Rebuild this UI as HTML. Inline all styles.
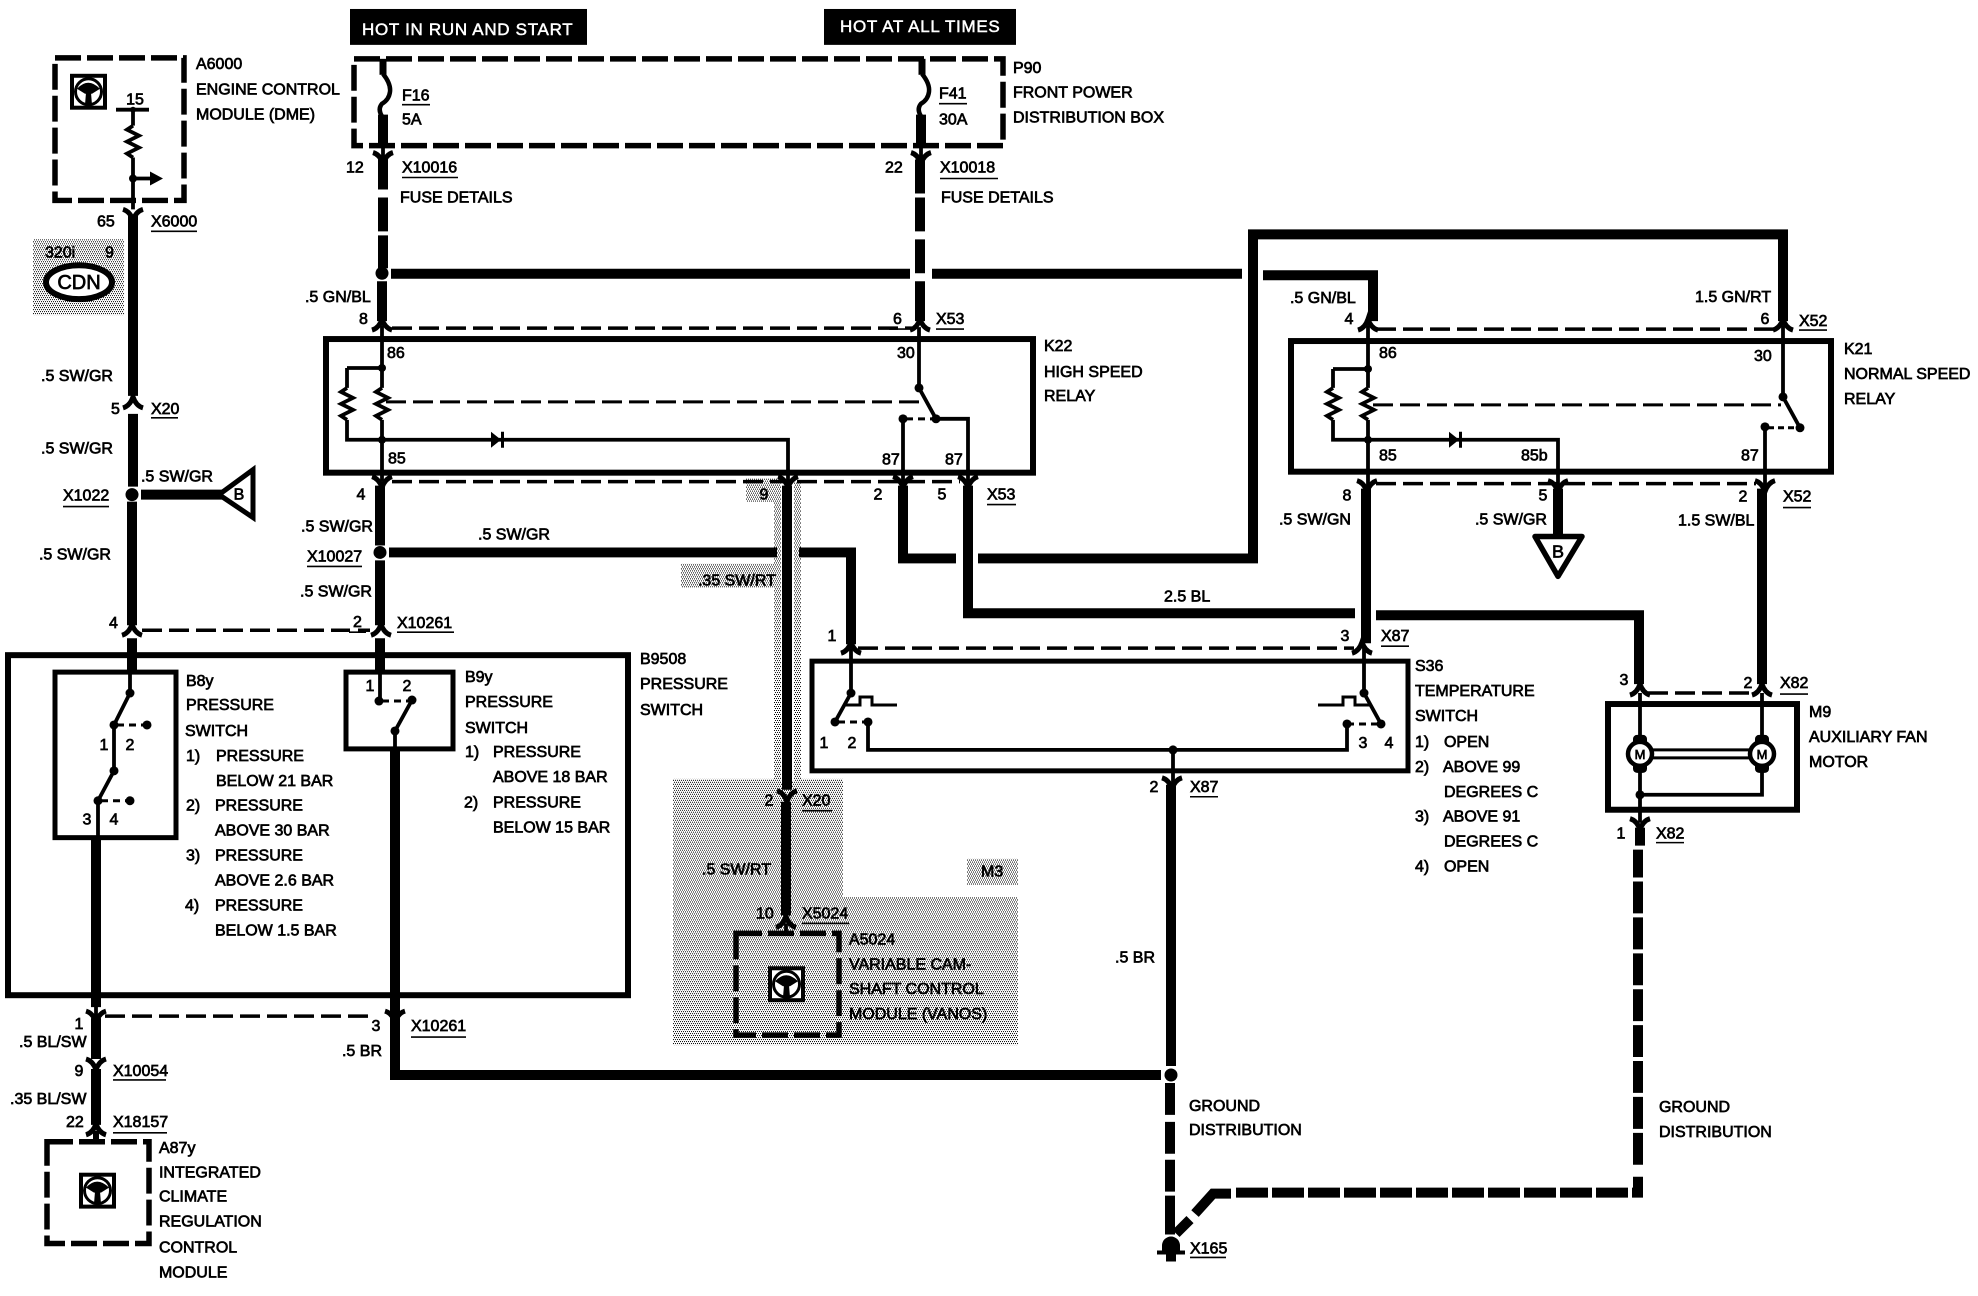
<!DOCTYPE html>
<html><head><meta charset="utf-8"><title>Auxiliary fan wiring diagram</title>
<style>
html,body{margin:0;padding:0;background:#fff}
svg{display:block}
text{font-family:"Liberation Sans",sans-serif;font-size:16px;fill:#000;stroke:#000;stroke-width:.7px}
.w{fill:#fff;stroke:#fff;stroke-width:.5px;font-size:17px;letter-spacing:.7px}
.m{text-anchor:middle}
.T{fill:none;stroke:#000;stroke-width:10}
.t{fill:none;stroke:#000;stroke-width:3.8}
.d{fill:none;stroke:#000;stroke-width:3.5;stroke-dasharray:20 7}
.x{fill:none;stroke:#000;stroke-width:5.5;stroke-dasharray:26 6}
.b{fill:none;stroke:#000;stroke-width:6}
.u{fill:none;stroke:#000;stroke-width:1.6}
.c{fill:none;stroke:#000;stroke-width:5}
</style></head><body>
<svg xmlns="http://www.w3.org/2000/svg" width="1978" height="1296" viewBox="0 0 1978 1296">
<defs>
<pattern id="g" width="4" height="4" patternUnits="userSpaceOnUse"><rect width="4" height="4" fill="#fff"/><rect x="0" y="0" width="1" height="1"/><rect x="2" y="0" width="1" height="1"/><rect x="1" y="2" width="1" height="1"/><rect x="3" y="2" width="1" height="1"/></pattern>
<g id="ic"><rect x="2" y="2" width="33" height="32" fill="#fff" stroke="#000" stroke-width="4"/><circle cx="18.500" cy="18" r="13" fill="none" stroke="#000" stroke-width="3"/><path d="M7 15Q18 3 30 15L22 20H15Z"/><path d="M16 19L15 31H22L21 19Z"/></g>
<path id="Y" d="M-10 -5Q-3 -3 0 6Q3 -3 10 -5" fill="none" stroke="#000" stroke-width="5"/>
<path id="A" d="M-10 5Q-3 3 0 -6Q3 3 10 5" fill="none" stroke="#000" stroke-width="5"/>
<path id="R" d="M0 0l-6 4l12 6l-12 6l12 6l-12 6l6 4" fill="none" stroke="#000" stroke-width="3.800"/>
<path id="F" d="M0 0q8 10 7 18q-1 8 -8 12q-5 6 1 14" fill="none" stroke="#000" stroke-width="4.500"/>
</defs>
<g transform="scale(1 .9972)">

<!-- grey patches -->
<g fill="url(#g)">
<rect x="33" y="240" width="91" height="76"/>
<rect x="746" y="480" width="36" height="23"/>
<rect x="774" y="483" width="27" height="300"/>
<rect x="681" y="565" width="97" height="24"/>
<path d="M673 781H843V899H1018V1048H673Z"/>
<rect x="967" y="861" width="51" height="27"/>
</g>
<rect x="781" y="483" width="13" height="300" fill="#fff"/>

<!-- header boxes -->
<rect x="350" y="9" width="237" height="36"/>
<text class="w" x="362" y="35">HOT IN RUN AND START</text>
<rect x="824" y="9" width="192" height="36"/>
<text class="w" x="840" y="32">HOT AT ALL TIMES</text>

<!-- dashed module boxes -->
<rect class="x" x="55" y="58" width="129" height="143"/>
<rect class="x" x="354" y="59" width="649" height="87"/>
<rect class="x" x="47" y="1145" width="102" height="102"/>
<rect class="x" x="736" y="936" width="103" height="102"/>
<use href="#ic" x="70" y="74"/>
<use href="#ic" x="79" y="1176"/>
<use href="#ic" x="768" y="969"/>

<!-- A6000 internals -->
<path class="t" d="M116 110H149M133 110V126M133 158V210M133 179H150"/>
<use href="#R" x="133" y="126"/>
<path d="M150 172L163 179L150 186Z"/>
<circle cx="133" cy="179" r="4"/><circle cx="133" cy="110" r="3"/>
<use href="#Y" x="133" y="215"/>
<path class="T" d="M133 215V397M133 415V488M132 503V627M132 640V674"/>
<use href="#A" x="133" y="404"/>
<circle cx="132" cy="496" r="6.500"/>
<path class="T" d="M141 496H222"/>
<path d="M219 496L253 471V519Z" fill="#fff" stroke="#000" stroke-width="5"/>
<use href="#A" x="132" y="632"/>
<path class="d" d="M142 632H350"/>

<!-- CDN -->
<text x="45" y="258">320i</text><text x="105" y="258">9</text>
<ellipse cx="79" cy="283" rx="33" ry="17" fill="#fff" stroke="#000" stroke-width="6"/>
<text class="m" x="79" y="290" style="font-size:20px">CDN</text>

<!-- F16 / F41 feeds -->
<path class="t" style="stroke-width:7" d="M383 59V75"/><use href="#F" x="383" y="74"/>
<path class="T" d="M383 115V147M383 160V190M383 198V232M383 236V269M382 282V322"/>
<path class="t" d="M383 147V158"/>
<use href="#Y" x="383" y="158"/>
<circle cx="382" cy="274" r="6.500"/>
<path class="t" style="stroke-width:7" d="M922 59V75"/><use href="#F" x="922" y="74"/>
<path class="T" d="M921 115V147M920 160V194M920 198V232M920 240V274M920 282V322"/>
<path class="t" d="M921 147V158"/>
<use href="#Y" x="921" y="158"/>
<path class="T" d="M391 274.500H910M932 274.500H1242M1263 276H1373V322"/>
<path class="d" d="M392 329H912M1376 330H1777"/>
<use href="#A" x="382" y="326"/><use href="#A" x="920" y="326"/><use href="#A" x="1368" y="326"/><use href="#A" x="1783" y="326"/>

<!-- K22 -->
<rect class="b" x="326" y="340" width="707" height="134"/>
<path class="t" d="M382 326V389M382 421V483M347 369H382M347 369V389M347 421V441H788V483M919 328V389L936 420M903 483V420M968 483V420H936"/>
<use href="#R" x="347" y="389"/><use href="#R" x="382" y="389"/>
<circle cx="382" cy="369" r="4"/><circle cx="382" cy="441" r="4"/>
<path d="M491 433V449L501 441ZM501 433H504V449H501Z"/>
<path class="d" style="stroke-width:3" d="M386 403H923"/>
<circle cx="919" cy="389" r="4.500"/><circle cx="936" cy="420" r="4.500"/><circle cx="903" cy="420" r="4.500"/>
<path class="d" style="stroke-dasharray:7 5;stroke-width:3" d="M906 420H936"/>
<path class="d" d="M392 483H960"/>
<path class="T" d="M380 487V547M380 562V627M380 640V674"/>
<use href="#Y" x="382" y="483"/><use href="#Y" x="788" y="483"/><use href="#Y" x="903" y="483"/><use href="#Y" x="968" y="483"/>
<circle cx="380" cy="554" r="6.500"/>
<use href="#A" x="381" y="632"/>
<path class="d" d="M358 632H370"/>

<!-- crossing heavy wires -->
<path class="T" d="M389 554H777M799 554H851V646"/>
<path class="T" d="M903 487V560H956M978 560H1253V235H1783V322"/>
<path class="T" d="M968 487V615H1355M1376 617H1639V686"/>
<path class="T" d="M787 487V792M786 804V918"/>
<use href="#Y" x="787" y="798"/><use href="#A" x="786" y="925"/>
<path class="t" d="M786 926V936"/>

<!-- K21 -->
<rect class="b" x="1291" y="342" width="540" height="131"/>
<path class="t" d="M1368 326V389M1368 421V487M1333 370H1368M1333 370V389M1333 421V441H1558V487M1783 326V398L1800 429M1765 428V487"/>
<use href="#R" x="1333" y="389"/><use href="#R" x="1368" y="389"/>
<circle cx="1368" cy="370" r="4"/><circle cx="1368" cy="441" r="4"/>
<path d="M1449 433V449L1459 441ZM1459 433H1462V449H1459Z"/>
<path class="d" style="stroke-width:3" d="M1373 406H1781"/>
<circle cx="1783" cy="398" r="4.500"/><circle cx="1800" cy="429" r="4.500"/><circle cx="1765" cy="428" r="4.500"/>
<path class="d" style="stroke-dasharray:6 4;stroke-width:3" d="M1768 429H1797"/>
<path class="d" d="M1376 485H1756"/>
<use href="#Y" x="1367" y="487"/><use href="#Y" x="1558" y="487"/><use href="#Y" x="1765" y="487"/>
<path class="T" d="M1366 490V645M1558 490V540M1762 490V686"/>
<path d="M1535 538H1582L1558 578Z" fill="#fff" stroke="#000" stroke-width="5.500" stroke-linejoin="round"/>

<!-- B9508 and pressure switches -->
<rect class="b" x="8" y="657" width="620" height="341"/>
<rect class="c" x="55" y="674" width="121" height="166"/>
<path class="t" d="M130 672V695L114 727V773L98 803V838"/>
<path class="d" style="stroke-dasharray:7 5;stroke-width:3" d="M117 727H147M101 803H130"/>
<circle cx="130" cy="695" r="4.500"/><circle cx="114" cy="727" r="4.500"/><circle cx="147" cy="727" r="4.500"/><circle cx="114" cy="773" r="4.500"/><circle cx="98" cy="803" r="4.500"/><circle cx="130" cy="803" r="4.500"/>
<path class="T" d="M96 841V1010"/>
<path class="t" d="M96 1008V1020"/>
<rect class="c" x="346" y="674" width="107" height="77"/>
<path class="t" d="M380 672V703M412 702L395 733V750"/>
<path class="d" style="stroke-dasharray:7 5;stroke-width:3" d="M382 703H412"/>
<circle cx="379" cy="703" r="4.500"/><circle cx="412" cy="702" r="4.500"/><circle cx="395" cy="733" r="4.500"/>
<path class="T" d="M395 751V1078H1161"/>
<path class="T" d="M96 1021V1062M96 1072V1128"/>
<path class="d" d="M105 1019H370"/>
<use href="#Y" x="96" y="1019"/><use href="#Y" x="395" y="1019"/>
<use href="#Y" x="96" y="1067"/><use href="#A" x="96" y="1133"/>
<path class="T" style="stroke-width:6" d="M96 1134V1145"/>

<!-- S36 -->
<rect class="c" x="812" y="663" width="596" height="110"/>
<path class="d" d="M858 650H1354"/>
<use href="#A" x="851" y="650"/><use href="#A" x="1362" y="650"/>
<path class="t" d="M851 650V695L835 724M868 726V752H1347V726M1173 752V785M1364 650V695L1381 726"/>
<path class="t" style="stroke-width:3" d="M845 707H860V699H872V707H897M1318 707H1343V699H1355V707H1372"/>
<path class="d" style="stroke-dasharray:7 5;stroke-width:3" d="M838 724H868M1347 726H1381"/>
<circle cx="851" cy="695" r="4.500"/><circle cx="835" cy="724" r="4.500"/><circle cx="868" cy="724" r="4.500"/><circle cx="1364" cy="695" r="4.500"/><circle cx="1381" cy="726" r="4.500"/><circle cx="1347" cy="726" r="4.500"/><circle cx="1173" cy="752" r="4.500"/>
<use href="#Y" x="1172" y="785"/>
<path class="T" d="M1171 787V1069M1170 1086V1118M1170 1125V1157M1170 1163V1195M1170 1199V1238"/>
<circle cx="1171" cy="1078" r="6.500"/>
<path class="T" d="M1176 1237L1190 1223M1195 1217L1213 1197H1231"/>
<path class="T" stroke-dasharray="32 4" d="M1236 1196H1638V1180"/>
<path class="T" stroke-dasharray="32 4" d="M1638 1168V852"/>
<path d="M1171 1240a9 9 0 0 1 9 9v5h5v4h-9v7h-10v-7h-9v-4h5v-5a9 9 0 0 1 9 -9Z"/>

<!-- M9 -->
<rect class="b" x="1608" y="706" width="189" height="106"/>
<use href="#A" x="1640" y="692"/><use href="#A" x="1762" y="692"/>
<path class="d" d="M1648 695H1750"/>
<path class="t" d="M1640 695V825M1762 695V797H1640"/>
<path class="t" style="stroke-width:3" d="M1653 752H1749M1653 760H1749"/>
<circle cx="1640" cy="797" r="4.500"/>
<rect x="1633" y="737" width="14" height="38" rx="4"/>
<rect x="1755" y="737" width="14" height="38" rx="4"/>
<circle cx="1640" cy="756" r="12" fill="#fff" stroke="#000" stroke-width="4.500"/>
<circle cx="1762" cy="756" r="12" fill="#fff" stroke="#000" stroke-width="4.500"/>
<text class="m" x="1640" y="761" style="font-size:13px">M</text>
<text class="m" x="1762" y="761" style="font-size:13px">M</text>
<use href="#Y" x="1640" y="826"/>
<path class="T" d="M1640 830V848"/>

<!-- underlines -->
<path class="u" d="M402 105H430M402 178H458M151 232H197M151 419H178M63 508H109M397 634H454M307 568H362M939 104H967M940 179H998M936 330H964M987 506H1016M349 634H366M889 330H905M1381 648H1409M1799 331H1827M1783 509H1811M1780 696H1808M1190 799H1218M1656 845H1684M802 813H832M802 926H849M1190 1261H1226M411 1040H466M113 1083H166M113 1136H167"/>

<!-- labels -->
<text x="196" y="69">A6000</text><text x="196" y="95">ENGINE CONTROL</text><text x="196" y="120">MODULE (DME)</text>
<text class="m" x="135" y="105">15</text>
<text x="402" y="101">F16</text><text x="402" y="125">5A</text>
<text x="346" y="173">12</text><text x="402" y="173">X10016</text><text x="400" y="203">FUSE DETAILS</text>
<text x="97" y="227">65</text><text x="151" y="227">X6000</text>
<text x="41" y="382">.5 SW/GR</text><text x="111" y="415">5</text><text x="151" y="415">X20</text>
<text x="41" y="455">.5 SW/GR</text><text x="141" y="483">.5 SW/GR</text><text x="63" y="502">X1022</text>
<text class="m" x="239" y="501">B</text>
<text x="39" y="561">.5 SW/GR</text><text x="109" y="630">4</text>
<text x="353" y="629">2</text><text x="397" y="630">X10261</text>
<text x="305" y="303">.5 GN/BL</text><text x="359" y="325">8</text>
<text x="387" y="359">86</text><text x="388" y="465">85</text>
<text x="361" y="501" class="m">4</text>
<text x="301" y="533">.5 SW/GR</text><text x="307" y="563">X10027</text><text x="300" y="598">.5 SW/GR</text>
<text x="478" y="541">.5 SW/GR</text>
<text x="1013" y="73">P90</text><text x="1013" y="98">FRONT POWER</text><text x="1013" y="123">DISTRIBUTION BOX</text>
<text x="939" y="99">F41</text><text x="939" y="125">30A</text>
<text x="885" y="173">22</text><text x="940" y="173">X10018</text><text x="941" y="203">FUSE DETAILS</text>
<text x="893" y="325">6</text><text x="936" y="325">X53</text>
<text x="897" y="359">30</text>
<text x="1044" y="352">K22</text><text x="1044" y="378">HIGH SPEED</text><text x="1044" y="402">RELAY</text>
<text x="882" y="466">87</text><text x="945" y="466">87</text>
<text class="m" x="764" y="501">9</text><text class="m" x="878" y="501">2</text><text class="m" x="942" y="501">5</text><text x="987" y="501">X53</text>
<text x="698" y="587">.35 SW/RT</text>
<text class="m" x="832" y="643">1</text>
<text x="1164" y="603">2.5 BL</text>
<text class="m" x="1345" y="643">3</text><text x="1381" y="643">X87</text>
<text class="m" x="824" y="750">1</text><text class="m" x="852" y="750">2</text>
<text class="m" x="1363" y="750">3</text><text class="m" x="1389" y="750">4</text>
<text x="1415" y="673">S36</text><text x="1415" y="698">TEMPERATURE</text><text x="1415" y="723">SWITCH</text>
<text x="1415" y="749">1)</text><text x="1444" y="749">OPEN</text>
<text x="1415" y="774">2)</text><text x="1443" y="774">ABOVE 99</text><text x="1444" y="799">DEGREES C</text>
<text x="1415" y="824">3)</text><text x="1443" y="824">ABOVE 91</text><text x="1444" y="849">DEGREES C</text>
<text x="1415" y="874">4)</text><text x="1444" y="874">OPEN</text>
<text class="m" x="1154" y="794">2</text><text x="1190" y="794">X87</text>
<text x="1115" y="965">.5 BR</text>
<text x="1189" y="1114">GROUND</text><text x="1189" y="1138">DISTRIBUTION</text>
<text x="1190" y="1257">X165</text>
<text x="1659" y="1115">GROUND</text><text x="1659" y="1140">DISTRIBUTION</text>
<text class="m" x="1621" y="841">1</text><text x="1656" y="841">X82</text>
<text class="m" x="1624" y="687">3</text><text class="m" x="1748" y="690">2</text><text x="1780" y="690">X82</text>
<text x="1809" y="719">M9</text><text x="1809" y="744">AUXILIARY FAN</text><text x="1809" y="769">MOTOR</text>
<text x="1290" y="304">.5 GN/BL</text><text class="m" x="1349" y="325">4</text>
<text x="1695" y="303">1.5 GN/RT</text><text class="m" x="1765" y="325">6</text><text x="1799" y="327">X52</text>
<text x="1379" y="359">86</text><text x="1379" y="462">85</text><text x="1521" y="462">85b</text>
<text x="1754" y="362">30</text><text x="1741" y="462">87</text>
<text x="1844" y="355">K21</text><text x="1844" y="380">NORMAL SPEED</text><text x="1844" y="405">RELAY</text>
<text class="m" x="1347" y="502">8</text><text x="1279" y="526">.5 SW/GN</text>
<text class="m" x="1543" y="502">5</text><text x="1475" y="526">.5 SW/GR</text>
<text class="m" x="1743" y="503">2</text><text x="1678" y="527">1.5 SW/BL</text><text x="1783" y="503">X52</text>
<text class="m" x="1558" y="559" style="font-size:18px">B</text>
<text class="m" x="104" y="752">1</text><text class="m" x="130" y="752">2</text><text class="m" x="87" y="827">3</text><text class="m" x="114" y="827">4</text>
<text x="186" y="688">B8y</text><text x="186" y="712">PRESSURE</text><text x="185" y="738">SWITCH</text>
<text x="186" y="763">1)</text><text x="216" y="763">PRESSURE</text><text x="216" y="788">BELOW 21 BAR</text>
<text x="186" y="813">2)</text><text x="215" y="813">PRESSURE</text><text x="215" y="838">ABOVE 30 BAR</text>
<text x="186" y="863">3)</text><text x="215" y="863">PRESSURE</text><text x="215" y="888">ABOVE 2.6 BAR</text>
<text x="185" y="913">4)</text><text x="215" y="913">PRESSURE</text><text x="215" y="938">BELOW 1.5 BAR</text>
<text class="m" x="370" y="693">1</text><text class="m" x="407" y="693">2</text>
<text x="465" y="684">B9y</text><text x="465" y="709">PRESSURE</text><text x="465" y="735">SWITCH</text>
<text x="465" y="759">1)</text><text x="493" y="759">PRESSURE</text><text x="493" y="784">ABOVE 18 BAR</text>
<text x="464" y="810">2)</text><text x="493" y="810">PRESSURE</text><text x="493" y="835">BELOW 15 BAR</text>
<text x="640" y="666">B9508</text><text x="640" y="691">PRESSURE</text><text x="640" y="717">SWITCH</text>
<text class="m" x="79" y="1032">1</text><text x="19" y="1050">.5 BL/SW</text>
<text class="m" x="376" y="1034">3</text><text x="411" y="1034">X10261</text><text x="342" y="1059">.5 BR</text>
<text class="m" x="79" y="1079">9</text><text x="113" y="1079">X10054</text>
<text x="10" y="1107">.35 BL/SW</text>
<text x="66" y="1130">22</text><text x="113" y="1130">X18157</text>
<text x="159" y="1156">A87y</text><text x="159" y="1181">INTEGRATED</text><text x="159" y="1205">CLIMATE</text><text x="159" y="1230">REGULATION</text><text x="159" y="1256">CONTROL</text><text x="159" y="1281">MODULE</text>
<text class="m" x="769" y="808">2</text><text x="802" y="808">X20</text>
<text x="702" y="877">.5 SW/RT</text><text x="981" y="879">M3</text>
<text x="756" y="921">10</text><text x="802" y="921">X5024</text>
<text x="849" y="947">A5024</text><text x="849" y="972">VARIABLE CAM-</text><text x="849" y="997">SHAFT CONTROL</text><text x="849" y="1022">MODULE (VANOS)</text>
</g>
</svg>
</body></html>
